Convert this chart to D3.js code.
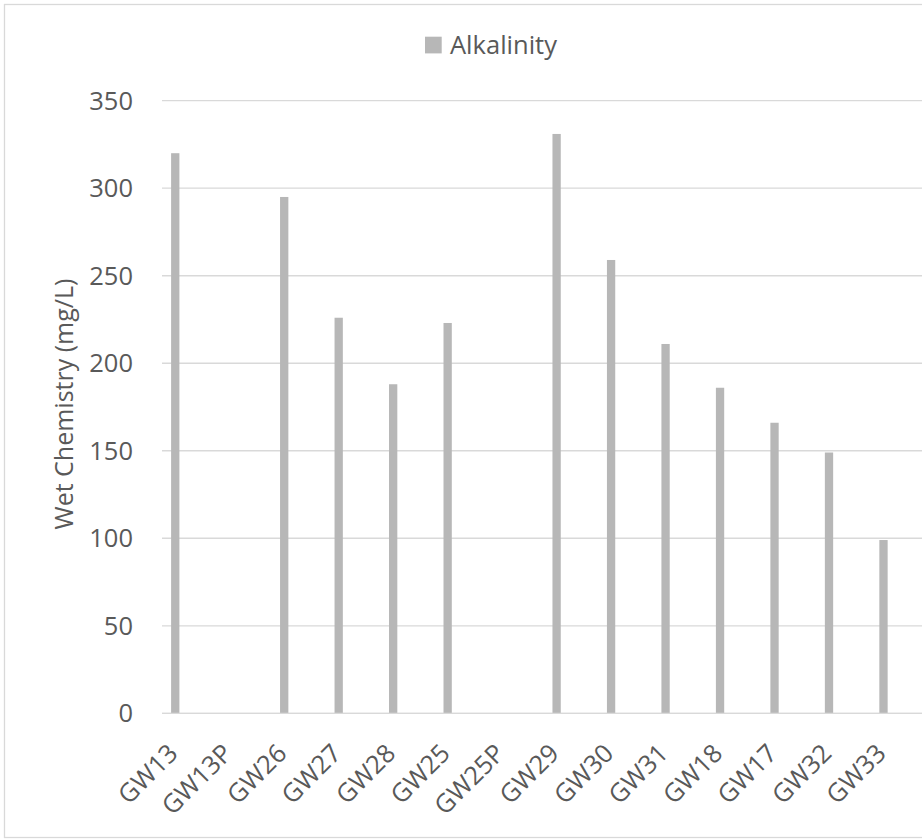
<!DOCTYPE html>
<html>
<head>
<meta charset="utf-8">
<script src="https://cdnjs.cloudflare.com/ajax/libs/d3/7.8.5/d3.min.js"></script>
<style>
  html, body { margin: 0; padding: 0; background: #fff; }
  svg { display: block; }
  text { font-family: "Open Sans", sans-serif; fill: #595959; }
</style>
</head>
<body>
<svg id="chart" width="922" height="839"></svg>
<script>
const categories = ["GW13","GW13P","GW26","GW27","GW28","GW25","GW25P","GW29","GW30","GW31","GW18","GW17","GW32","GW33"];
const alkalinity = [320, null, 295, 226, 188, 223, null, 331, 259, 211, 186, 166, 149, 99];
const yTicks = [0, 50, 100, 150, 200, 250, 300, 350];
const seriesName = "Alkalinity";
const yTitle = "Wet Chemistry (mg/L)";

const svg = d3.select("#chart");
const gridColor = "#d9d9d9";
const barColor = "#b7b7b7";

// chart border
svg.append("rect")
  .attr("x", 4.5).attr("y", 4.5)
  .attr("width", 960).attr("height", 833)
  .attr("fill", "#fff").attr("stroke", gridColor).attr("stroke-width", 1.3);

const plotLeft = 162, step = 54.48;
const x = d3.scaleBand().domain(categories)
  .range([plotLeft, plotLeft + step * categories.length]).padding(0);
const y = d3.scaleLinear().domain([0, 350]).range([713.3, 100.7]);

// gridlines
svg.append("g").selectAll("line").data(yTicks).join("line")
  .attr("x1", plotLeft).attr("x2", 930)
  .attr("y1", d => y(d)).attr("y2", d => y(d))
  .attr("stroke", gridColor).attr("stroke-width", 1.3);

// y tick labels
svg.append("g").selectAll("text").data(yTicks).join("text")
  .attr("x", 133).attr("y", d => y(d)).attr("dy", "0.36em")
  .attr("text-anchor", "end").style("font-size", "25.5px")
  .text(d => d);

// bars
const barOffset = 9.1, barWidth = 8.3;
const data = categories.map((c, i) => ({ c, v: alkalinity[i] })).filter(d => d.v != null);
svg.append("g").selectAll("rect").data(data).join("rect")
  .attr("x", d => x(d.c) + barOffset)
  .attr("width", barWidth)
  .attr("y", d => y(d.v))
  .attr("height", d => y(0) - y(d.v))
  .attr("fill", barColor);

// x axis line
svg.append("line")
  .attr("x1", plotLeft).attr("x2", 930)
  .attr("y1", y(0)).attr("y2", y(0))
  .attr("stroke", gridColor).attr("stroke-width", 1.3);

// x labels
svg.append("g").selectAll("text").data(categories).join("text")
  .attr("transform", d => `translate(${x(d) + barOffset + barWidth / 2 + 4},755) rotate(-45)`)
  .attr("text-anchor", "end").style("font-size", "25.5px")
  .text(d => d);

// y title
svg.append("text")
  .attr("transform", "translate(73,404) rotate(-90)")
  .attr("text-anchor", "middle").style("font-size", "25px")
  .text(yTitle);

// legend
svg.append("rect").attr("x", 425).attr("y", 36.7).attr("width", 16.7).attr("height", 16.7).attr("fill", barColor);
svg.append("text").attr("x", 450).attr("y", 53.5).style("font-size", "25.5px").text(seriesName);
</script>
</body>
</html>
